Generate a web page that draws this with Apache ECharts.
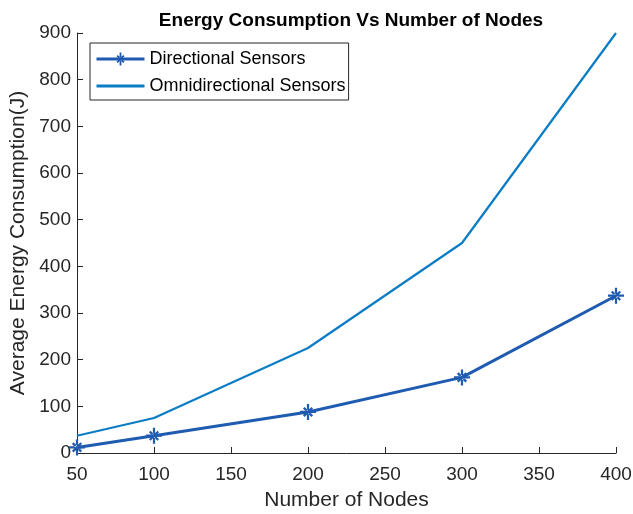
<!DOCTYPE html>
<html>
<head>
<meta charset="utf-8">
<script src="https://cdn.jsdelivr.net/npm/echarts@6/dist/echarts.min.js"></script>
<style>
  html, body { margin: 0; padding: 0; background: #fff; }
  #chart { width: 633px; height: 514px; }
</style>
</head>
<body>
<div id="chart"></div>
<script>
// Node counts on the x axis
const nodes = [50, 100, 200, 300, 400];
// Average energy consumption (J)
const directional = [12, 37, 88, 162, 337];
const omnidirectional = [37, 75, 225, 450, 900];

const seriesNames = ['Directional Sensors', 'Omnidirectional Sensors'];

// Asterisk marker: plus and cross made of bars
const asterisk = 'path://M-1.4,-10L1.4,-10L1.4,10L-1.4,10Z M-10,-1.4L10,-1.4L10,1.4L-10,1.4Z ' +
  'M4.3,6.3L6.3,4.3L-4.3,-6.3L-6.3,-4.3Z M-4.3,6.3L-6.3,4.3L4.3,-6.3L6.3,-4.3Z';

const font = 'Liberation Sans, Arial, Helvetica, sans-serif';
const axisColor = '#262626';
const dirColor = '#1f5bb0';
const omniColor = '#0a7cc6';

const chart = echarts.init(document.getElementById('chart'), null, { renderer: 'canvas' });

chart.setOption({
  animation: false,
  backgroundColor: '#ffffff',
  textStyle: { fontFamily: font },
  title: {
    text: 'Energy Consumption Vs Number of Nodes',
    left: 346, top: 6, textAlign: 'center',
    textStyle: { fontFamily: font, fontSize: 19, fontWeight: 'bold', color: '#000' }
  },
  grid: {
    left: 77, right: 17, top: 33, bottom: 61,
    containLabel: false, outerBoundsMode: 'none'
  },
  legend: {
    orient: 'vertical',
    left: 90, top: 43,
    padding: [7, 3, 5, 5],
    itemWidth: 48, itemHeight: 16, itemGap: 9,
    borderColor: '#262626', borderWidth: 1, backgroundColor: '#fff',
    textStyle: { fontFamily: font, fontSize: 18, color: '#000' },
    data: [
      { name: seriesNames[0], lineStyle: { width: 3 } },
      { name: seriesNames[1], itemStyle: { opacity: 0 }, lineStyle: { width: 3 } }
    ]
  },
  xAxis: {
    type: 'value', min: 50, max: 400, interval: 50,
    name: 'Number of Nodes', nameLocation: 'middle', nameGap: 37,
    nameTextStyle: { fontFamily: font, fontSize: 21, color: axisColor },
    axisLine: { show: true, onZero: false, lineStyle: { color: axisColor, width: 1 } },
    axisTick: { show: true, inside: true, length: 6, lineStyle: { color: axisColor } },
    axisLabel: { fontFamily: font, fontSize: 19, color: axisColor, margin: 12 },
    splitLine: { show: false }
  },
  yAxis: {
    type: 'value', min: 0, max: 900, interval: 100,
    name: 'Average Energy Consumption(J)', nameLocation: 'middle', nameGap: 40, nameRotate: 90,
    nameTextStyle: { fontFamily: font, fontSize: 21, color: axisColor },
    axisLine: { show: true, lineStyle: { color: axisColor, width: 1 } },
    axisTick: { show: true, inside: true, length: 6, lineStyle: { color: axisColor } },
    axisLabel: { fontFamily: font, fontSize: 19, color: axisColor, margin: 6 },
    splitLine: { show: false }
  },
  series: [
    {
      name: seriesNames[0], type: 'line',
      data: nodes.map((n, i) => [n, directional[i]]),
      symbol: asterisk, symbolSize: 16, showAllSymbol: true,
      lineStyle: { color: dirColor, width: 3 },
      itemStyle: { color: dirColor },
      z: 3
    },
    {
      name: seriesNames[1], type: 'line',
      data: nodes.map((n, i) => [n, omnidirectional[i]]),
      symbol: 'none',
      lineStyle: { color: omniColor, width: 2.2 },
      itemStyle: { color: omniColor },
      z: 2
    }
  ]
});
</script>
</body>
</html>
